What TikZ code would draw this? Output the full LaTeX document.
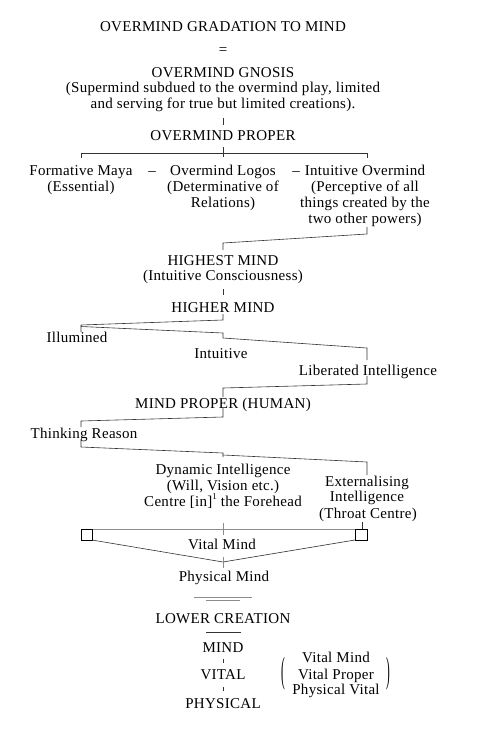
\documentclass[tikz,border=0pt]{standalone}
\usepackage{fontspec}
\setmainfont[LetterSpace=2]{Liberation Serif}
\begin{document}
\begin{tikzpicture}[x=1pt,y=-1pt,
  lbl/.style={inner sep=0pt,anchor=base,font=\fontsize{15}{16}\selectfont,text=black},
  ln/.style={draw=black!80,line width=0.6pt},
  gln/.style={draw=black!45,line width=0.8pt},
  sq/.style={draw=black,line width=0.6pt}]
\useasboundingbox (0,0) rectangle (489,731);
% texts
\node[lbl] (t) at (223,31) {OVERMIND GRADATION TO MIND};
\node[lbl] (eq) at (223,54) {=};
\node[lbl] (g1) at (223,77) {OVERMIND GNOSIS};
\node[lbl] (g2) at (223,92) {(Supermind subdued to the overmind play, limited};
\node[lbl] (g3) at (223,108) {and serving for true but limited creations).};
\node[lbl] (op) at (223,140) {OVERMIND PROPER};
\node[lbl] (fm1) at (81,175) {Formative Maya};
\node[lbl] (fm2) at (81,191) {(Essential)};
\node[lbl] (d1) at (152,175) {–};
\node[lbl] (ol1) at (223,175) {Overmind Logos};
\node[lbl] (ol2) at (223,191) {(Determinative of};
\node[lbl] (ol3) at (223,207) {Relations)};
\node[lbl] (d2) at (296,175) {–};
\node[lbl] (io1) at (365,175) {Intuitive Overmind};
\node[lbl] (io2) at (365,191) {(Perceptive of all};
\node[lbl] (io3) at (365,207) {things created by the};
\node[lbl] (io4) at (365,223) {two other powers)};
\node[lbl] (hm1) at (223,265) {HIGHEST MIND};
\node[lbl] (hm2) at (223,280) {(Intuitive Consciousness)};
\node[lbl] (hr) at (223,312) {HIGHER MIND};
\node[lbl] (il) at (77,342) {Illumined};
\node[lbl] (in) at (221,358) {Intuitive};
\node[lbl] (li) at (368,375) {Liberated Intelligence};
\node[lbl] (mp) at (223,408) {MIND PROPER (HUMAN)};
\node[lbl] (tr) at (84,438) {Thinking Reason};
\node[lbl] (di1) at (223,474) {Dynamic Intelligence};
\node[lbl] (di2) at (223,490) {(Will, Vision etc.)};
\node[lbl] (di3) at (223,506) {Centre [in]\raisebox{0.45em}{\fontsize{9}{9}\selectfont 1} the Forehead};
\node[lbl] (ex1) at (367,486) {Externalising};
\node[lbl] (ex2) at (367,501) {Intelligence};
\node[lbl] (ex3) at (368,518) {(Throat Centre)};
\node[lbl] (vm) at (222,549) {Vital Mind};
\node[lbl] (pm) at (224,581) {Physical Mind};
\node[lbl] (lc) at (223,623) {LOWER CREATION};
\node[lbl] (mi) at (223,652) {MIND};
\node[lbl] (vi) at (223,679) {VITAL};
\node[lbl] (ph) at (223,708) {PHYSICAL};
\node[lbl] (vm2) at (336,662) {Vital Mind};
\node[lbl] (vp) at (336,679) {Vital Proper};
\node[lbl] (pv) at (336,694) {Physical Vital};
\node[inner sep=0pt,font=\fontsize{14}{16}\selectfont] (lp) at (283,674) {\scalebox{0.8}[2.6]{(}};
\node[inner sep=0pt,font=\fontsize{14}{16}\selectfont] (rp) at (388,674) {\scalebox{0.8}[2.6]{)}};
% coordinates
\coordinate (a1) at (223,118); \coordinate (a2) at (223,125);
\coordinate (b1) at (223,147); \coordinate (b2) at (223,157);
\coordinate (b3) at (81,158); \coordinate (b4) at (81,153);
\coordinate (b5) at (367,153); \coordinate (b6) at (367,158);
\coordinate (c1) at (367,227); \coordinate (c2) at (367,234);
\coordinate (c3) at (223,243); \coordinate (c4) at (223,250);
\coordinate (e1) at (223,289); \coordinate (e2) at (223,295);
\coordinate (f1) at (223,314); \coordinate (f2) at (223,320);
\coordinate (f3) at (81,325); \coordinate (f4) at (81,332);
\coordinate (h1) at (81,326.5); \coordinate (h2) at (223,333);
\coordinate (h3) at (223,338);
\coordinate (k1) at (367,348); \coordinate (k2) at (367,360);
\coordinate (m1) at (367,376); \coordinate (m2) at (367,384);
\coordinate (m3) at (223,388); \coordinate (m4) at (223,397);
\coordinate (n1) at (223,408); \coordinate (n2) at (223,417);
\coordinate (n3) at (81,421); \coordinate (n4) at (81,427);
\coordinate (p1) at (81,440); \coordinate (p2) at (81,447);
\coordinate (p3) at (223,453); \coordinate (p4) at (223,457);
\coordinate (q1) at (223,455); \coordinate (q2) at (367,462);
\coordinate (q3) at (367,475);
\coordinate (r1) at (362,522); \coordinate (r2) at (362,529);
\coordinate (s1) at (81,529); \coordinate (s2) at (92,540);
\coordinate (s3) at (355,529); \coordinate (s4) at (367,540);
\coordinate (s5) at (92,529); \coordinate (s6) at (355,540);
\coordinate (u1) at (223,523); \coordinate (u2) at (223,535);
\coordinate (v1) at (223,562);
\coordinate (w1) at (223,557); \coordinate (w2) at (223,568);
\coordinate (x1) at (194,597); \coordinate (x2) at (252,597);
\coordinate (x3) at (206,600); \coordinate (x4) at (240,600);
\coordinate (y1) at (206,632); \coordinate (y2) at (241,632);
\coordinate (z1) at (223,659); \coordinate (z2) at (223,663);
\coordinate (z3) at (223,687); \coordinate (z4) at (223,691);
% connectors
\draw[ln] (a1) -- (a2);
\draw[ln] (b1) -- (b2);
\draw[ln] (b3) -- (b4) -- (b5) -- (b6);
\draw[ln] (c1) -- (c2) -- (c3) -- (c4);
\draw[ln] (e1) -- (e2);
\draw[ln] (f1) -- (f2) -- (f3) -- (f4);
\draw[ln] (h1) -- (h2) -- (h3);
\draw[ln] (h3) -- (k1) -- (k2);
\draw[ln] (m1) -- (m2) -- (m3) -- (m4);
\draw[ln] (n1) -- (n2) -- (n3) -- (n4);
\draw[ln] (p1) -- (p2) -- (p3) -- (p4);
\draw[ln] (q1) -- (q2) -- (q3);
\draw[ln] (r1) -- (r2);
\draw[gln] (s5) -- (s3);
\draw[gln] (u1) -- (u2);
\draw[sq] (s1) rectangle (s2);
\draw[sq] (s3) rectangle (s4);
\draw[ln] (s2) -- (v1) -- (s6);
\draw[gln] (w1) -- (w2);
\draw[gln] (x1) -- (x2);
\draw[gln] (x3) -- (x4);
\draw[ln,line width=0.8pt] (y1) -- (y2);
\draw[ln] (z1) -- (z2);
\draw[ln] (z3) -- (z4);
\end{tikzpicture}
\end{document}
